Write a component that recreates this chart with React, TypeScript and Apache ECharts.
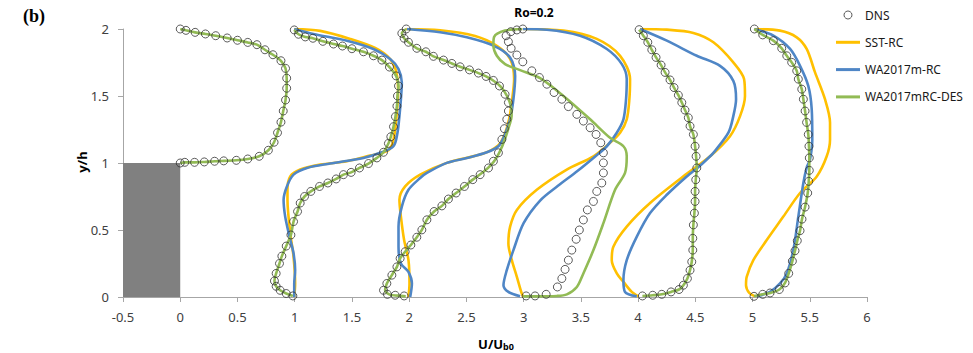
import React, { useEffect, useRef } from "react";
import * as echarts from "echarts";

type P = [number, number];

// ---- Data (U/Ub0 with station offset, y/h) ----
const xTicks = { min: -0.5, max: 6, interval: 0.5 };
const yTicks = { min: 0, max: 2, interval: 0.5 };
const stepBlock: [P, P] = [[-0.5, 0], [0, 1]];

const dnsP0: P[] = [
  [0.0, 2.0], [0.05, 1.99], [0.13, 1.975], [0.22, 1.963], [0.31, 1.95], [0.41, 1.933], [0.5, 1.916],
  [0.59, 1.9], [0.67, 1.883], [0.74, 1.845], [0.81, 1.808], [0.88, 1.763], [0.92, 1.706], [0.93, 1.633],
  [0.93, 1.558], [0.92, 1.47], [0.9, 1.388], [0.88, 1.305], [0.85, 1.226], [0.82, 1.155], [0.77, 1.095],
  [0.69, 1.05], [0.59, 1.03], [0.49, 1.02], [0.38, 1.016], [0.3, 1.013], [0.21, 1.008], [0.125, 1.005],
  [0.04, 1.005], [0.0, 1.0],
];
const dnsP1: P[] = [
  [0.996, 1.993], [1.033, 1.961], [1.092, 1.941], [1.159, 1.931], [1.246, 1.908], [1.339, 1.888],
  [1.417, 1.873], [1.5, 1.853], [1.601, 1.83], [1.688, 1.8], [1.762, 1.768], [1.828, 1.716], [1.886, 1.65],
  [1.907, 1.575], [1.898, 1.5], [1.893, 1.425], [1.88, 1.346], [1.863, 1.271], [1.84, 1.196], [1.819, 1.146],
  [1.776, 1.08], [1.718, 1.038], [1.645, 0.996], [1.566, 0.963], [1.493, 0.93], [1.426, 0.913], [1.362, 0.881],
  [1.29, 0.851], [1.217, 0.825], [1.141, 0.788], [1.086, 0.75], [1.048, 0.701], [1.025, 0.638], [0.99, 0.563],
  [0.967, 0.463], [0.926, 0.38], [0.888, 0.305], [0.867, 0.25], [0.838, 0.176], [0.823, 0.12], [0.838, 0.08],
  [0.873, 0.05], [0.926, 0.026], [0.984, 0.008],
];
const dnsP2: P[] = [
  [1.974, 2.0], [1.936, 1.968], [1.956, 1.931], [1.994, 1.901], [2.067, 1.856], [2.146, 1.83], [2.212, 1.796],
  [2.3, 1.768], [2.373, 1.743], [2.445, 1.718], [2.527, 1.695], [2.605, 1.671], [2.672, 1.646], [2.736, 1.616],
  [2.789, 1.575], [2.838, 1.513], [2.867, 1.451], [2.867, 1.388], [2.853, 1.326], [2.832, 1.256], [2.81, 1.176],
  [2.78, 1.076], [2.736, 1.013], [2.693, 0.963], [2.62, 0.913], [2.556, 0.876], [2.483, 0.825], [2.41, 0.776],
  [2.343, 0.731], [2.286, 0.68], [2.218, 0.638], [2.155, 0.576], [2.111, 0.501], [2.067, 0.446], [2.015, 0.388],
  [1.965, 0.338], [1.921, 0.288], [1.893, 0.225], [1.849, 0.163], [1.805, 0.101], [1.776, 0.05], [1.81, 0.02],
  [1.878, 0.013], [1.956, 0.008],
];
const dnsP3: P[] = [
  [2.993, 2.0], [2.941, 1.993], [2.888, 1.98], [2.847, 1.95], [2.867, 1.905], [2.891, 1.856], [2.941, 1.806],
  [2.993, 1.755], [3.072, 1.688], [3.138, 1.638], [3.203, 1.588], [3.266, 1.526], [3.334, 1.476], [3.391, 1.421],
  [3.465, 1.363], [3.522, 1.313], [3.581, 1.263], [3.633, 1.213], [3.674, 1.151], [3.697, 1.076], [3.697, 1.001],
  [3.697, 0.926], [3.683, 0.851], [3.639, 0.788], [3.61, 0.713], [3.557, 0.65], [3.522, 0.575], [3.487, 0.5],
  [3.459, 0.431], [3.421, 0.35], [3.391, 0.275], [3.362, 0.206], [3.334, 0.138], [3.295, 0.075], [3.197, 0.02],
  [3.1, 0.008], [3.022, 0.008],
];
const dnsP4: P[] = [
  [4.009, 1.995], [4.046, 1.95], [4.085, 1.901], [4.12, 1.845], [4.157, 1.788], [4.201, 1.731], [4.236, 1.676],
  [4.279, 1.62], [4.314, 1.563], [4.352, 1.506], [4.382, 1.451], [4.41, 1.395], [4.439, 1.338], [4.454, 1.275],
  [4.483, 1.213], [4.498, 1.125], [4.507, 1.05], [4.513, 0.963], [4.504, 0.875], [4.498, 0.788], [4.498, 0.713],
  [4.492, 0.626], [4.483, 0.538], [4.478, 0.438], [4.478, 0.35], [4.469, 0.263], [4.454, 0.2], [4.431, 0.138],
  [4.396, 0.088], [4.358, 0.056], [4.288, 0.038], [4.207, 0.02], [4.128, 0.013], [4.038, 0.008],
];
const dnsP5: P[] = [
  [5.016, 2.0], [5.089, 1.956], [5.182, 1.913], [5.255, 1.856], [5.299, 1.8], [5.342, 1.751], [5.386, 1.688],
  [5.4, 1.626], [5.43, 1.551], [5.444, 1.476], [5.459, 1.388], [5.472, 1.303], [5.487, 1.213], [5.493, 1.125],
  [5.496, 1.038], [5.496, 0.945], [5.491, 0.863], [5.482, 0.776], [5.459, 0.671], [5.432, 0.581], [5.415, 0.495],
  [5.391, 0.42], [5.371, 0.345], [5.348, 0.268], [5.316, 0.176], [5.284, 0.105], [5.234, 0.056], [5.153, 0.03],
  [5.089, 0.02], [5.013, 0.005],
];

const sstP1: P[] = [
  [0.996, 2.0], [1.223, 1.986], [1.485, 1.926], [1.703, 1.858], [1.834, 1.776], [1.886, 1.686], [1.904, 1.551],
  [1.895, 1.401], [1.878, 1.251], [1.852, 1.138], [1.805, 1.088], [1.659, 1.055], [1.456, 1.013], [1.223, 0.988],
  [1.048, 0.951], [0.961, 0.9], [0.937, 0.8], [0.937, 0.725], [0.961, 0.478], [0.99, 0.3], [1.004, 0.1], [0.996, 0.0],
];
const sstP2: P[] = [
  [1.974, 2.0], [2.271, 1.991], [2.576, 1.948], [2.769, 1.873], [2.882, 1.776], [2.917, 1.626], [2.9, 1.476],
  [2.873, 1.326], [2.83, 1.206], [2.777, 1.131], [2.649, 1.071], [2.329, 1.001], [2.096, 0.913], [1.965, 0.825],
  [1.915, 0.725], [1.928, 0.6], [1.956, 0.425], [1.994, 0.275], [2.003, 0.1], [1.994, 0.0],
];
const sstP3: P[] = [
  [2.993, 2.0], [3.348, 1.988], [3.639, 1.926], [3.843, 1.8], [3.93, 1.626], [3.924, 1.476], [3.901, 1.326],
  [3.843, 1.226], [3.755, 1.151], [3.61, 1.05], [3.377, 0.951], [3.115, 0.8], [2.941, 0.65], [2.882, 0.525],
  [2.867, 0.4], [2.897, 0.275], [2.941, 0.15], [2.984, 0.025], [3.0, 0.0],
];
const sstP4: P[] = [
  [4.017, 2.0], [4.251, 1.995], [4.483, 1.971], [4.658, 1.901], [4.832, 1.751], [4.926, 1.626], [4.934, 1.5],
  [4.891, 1.35], [4.803, 1.2], [4.629, 1.05], [4.396, 0.9], [4.105, 0.701], [3.901, 0.525], [3.784, 0.375],
  [3.77, 0.275], [3.814, 0.176], [3.872, 0.113], [3.945, 0.038], [4.003, 0.005],
];
const sstP5: P[] = [
  [5.016, 2.0], [5.24, 1.988], [5.386, 1.938], [5.473, 1.851], [5.546, 1.676], [5.633, 1.476], [5.677, 1.301],
  [5.677, 1.176], [5.648, 1.05], [5.561, 0.9], [5.415, 0.776], [5.269, 0.6], [5.124, 0.425], [5.007, 0.275],
  [4.949, 0.15], [4.943, 0.088], [4.972, 0.03], [5.022, 0.005],
];

const waP1: P[] = [
  [0.996, 2.0], [1.164, 1.963], [1.456, 1.913], [1.688, 1.851], [1.834, 1.776], [1.907, 1.701], [1.936, 1.601],
  [1.928, 1.476], [1.915, 1.35], [1.898, 1.226], [1.863, 1.125], [1.747, 1.076], [1.601, 1.038], [1.31, 0.996],
  [1.107, 0.963], [0.99, 0.913], [0.932, 0.825], [0.903, 0.725], [0.917, 0.6], [0.955, 0.45], [0.99, 0.326],
  [1.004, 0.2], [0.996, 0.1], [0.996, 0.0],
];
const waP2: P[] = [
  [1.98, 2.0], [2.271, 1.976], [2.504, 1.938], [2.736, 1.876], [2.882, 1.788], [2.926, 1.65], [2.911, 1.476],
  [2.882, 1.326], [2.83, 1.2], [2.78, 1.125], [2.679, 1.08], [2.504, 1.037], [2.329, 1.001], [2.155, 0.926],
  [2.096, 0.888], [1.994, 0.8], [1.936, 0.675], [1.907, 0.525], [1.907, 0.375], [1.928, 0.25], [1.994, 0.188],
  [2.024, 0.1], [2.009, 0.0],
];
const waP3: P[] = [
  [2.993, 2.0], [3.203, 1.995], [3.493, 1.95], [3.727, 1.851], [3.858, 1.738], [3.901, 1.626], [3.895, 1.476],
  [3.872, 1.326], [3.814, 1.226], [3.727, 1.125], [3.62, 1.045], [3.47, 0.94], [3.3, 0.83],
  [3.144, 0.72], [3.0, 0.551], [2.911, 0.35], [2.853, 0.2], [2.824, 0.088], [2.867, 0.038], [2.969, 0.005],
];
const waP4: P[] = [
  [4.017, 2.0], [4.251, 1.913], [4.513, 1.8], [4.716, 1.725], [4.832, 1.613], [4.856, 1.476], [4.832, 1.35],
  [4.789, 1.226], [4.658, 1.076], [4.6, 1.026], [4.541, 0.98], [4.425, 0.9], [4.251, 0.763], [4.105, 0.626],
  [3.989, 0.45], [3.901, 0.275], [3.872, 0.125], [3.886, 0.038], [3.989, 0.005],
];
const waP5: P[] = [
  [5.016, 2.0], [5.182, 1.95], [5.328, 1.851], [5.415, 1.725], [5.487, 1.575], [5.517, 1.401], [5.522, 1.176],
  [5.502, 1.026], [5.473, 0.966], [5.444, 0.851], [5.4, 0.6], [5.356, 0.35], [5.299, 0.176], [5.24, 0.101],
  [5.153, 0.038], [5.037, 0.005],
];

const desP0: P[] = dnsP0;
const desP1: P[] = dnsP1;
const desP2: P[] = [
  [1.974, 2.0], [1.936, 1.968], [1.956, 1.931], [1.994, 1.901], [2.067, 1.856], [2.146, 1.83], [2.212, 1.796],
  [2.3, 1.768], [2.373, 1.743], [2.445, 1.718], [2.527, 1.695], [2.605, 1.671], [2.672, 1.646], [2.74, 1.612],
  [2.8, 1.57], [2.855, 1.5], [2.89, 1.42], [2.895, 1.35], [2.875, 1.28], [2.845, 1.2], [2.81, 1.12],
  [2.77, 1.05], [2.72, 0.99], [2.65, 0.935], [2.556, 0.876], [2.483, 0.825], [2.41, 0.776],
  [2.343, 0.731], [2.286, 0.68], [2.218, 0.638], [2.155, 0.576], [2.111, 0.501], [2.067, 0.446], [2.015, 0.388],
  [1.965, 0.338], [1.921, 0.288], [1.893, 0.225], [1.849, 0.163], [1.805, 0.101], [1.79, 0.05], [1.83, 0.018],
  [1.9, 0.01], [1.97, 0.005],
];
const desP3: P[] = [
  [2.987, 2.0], [2.838, 1.988], [2.742, 1.941], [2.736, 1.881], [2.766, 1.8], [2.838, 1.738], [2.969, 1.693],
  [3.144, 1.633], [3.348, 1.5], [3.581, 1.326], [3.755, 1.188], [3.872, 1.125], [3.901, 1.05], [3.886, 0.926],
  [3.799, 0.8], [3.697, 0.551], [3.61, 0.35], [3.522, 0.176], [3.465, 0.075], [3.378, 0.02], [3.29, 0.008],
  [3.1, 0.005], [2.996, 0.005],
];
const desP4: P[] = dnsP4;
const desP5: P[] = dnsP5;

const dnsAll: P[] = [...dnsP0, ...dnsP1, ...dnsP2, ...dnsP3, ...dnsP4, ...dnsP5];

const NAMES = { dns: "DNS", sst: "SST-RC", wa: "WA2017m-RC", des: "WA2017mRC-DES" };
const COLORS = { sst: "#FFC000", wa: "#4F86C6", des: "#92BB55" };

export default function App() {
  const ref = useRef<HTMLDivElement>(null);
  useEffect(() => {
    if (!ref.current) return;
    const chart = echarts.init(ref.current, null, { renderer: "svg" });

    const lineSeries = (name: string, color: string, data: P[], z: number, extra: any = {}) => ({
      type: "line",
      name,
      data,
      smooth: 0.3,
      symbol: "none",
      showSymbol: false,
      lineStyle: { color, width: 2.6 },
      itemStyle: { color },
      z,
      silent: true,
      ...extra,
    });

    const series: any[] = [];
    [sstP1, sstP2, sstP3, sstP4, sstP5].forEach((d) => series.push(lineSeries(NAMES.sst, COLORS.sst, d, 2)));
    [waP1, waP2, waP3, waP4, waP5].forEach((d) => series.push(lineSeries(NAMES.wa, COLORS.wa, d, 3)));
    [desP0, desP1, desP2, desP3, desP4, desP5].forEach((d, i) =>
      series.push(
        lineSeries(
          NAMES.des,
          COLORS.des,
          d,
          4,
          i === 0
            ? {
                markArea: {
                  silent: true,
                  itemStyle: { color: "#808080", opacity: 1 },
                  data: [[{ coord: stepBlock[0] }, { coord: stepBlock[1] }]],
                },
              }
            : {}
        )
      )
    );
    series.push({
      type: "scatter",
      name: NAMES.dns,
      data: dnsAll,
      symbol: "circle",
      symbolSize: 8,
      itemStyle: { color: "rgba(255,255,255,0)", borderColor: "#333333", borderWidth: 1 },
      z: 6,
      silent: true,
    });

    const labelFont = { fontFamily: "Noto Sans", fontSize: 13, color: "#404040" };
    const lineIcon = "path://M0 0H24V3H0Z";

    chart.setOption({
      animation: false,
      backgroundColor: "#ffffff",
      grid: { left: 123, right: 106, top: 29, bottom: 56, outerBoundsMode: "none" },
      xAxis: {
        type: "value",
        min: xTicks.min,
        max: xTicks.max,
        interval: xTicks.interval,
        axisLine: { show: true, onZero: false, lineStyle: { color: "#A6A6A6", width: 1 } },
        axisTick: { show: true, length: 5, lineStyle: { color: "#A6A6A6" } },
        axisLabel: { ...labelFont, margin: 13 },
        splitLine: { show: false },
      },
      yAxis: {
        type: "value",
        min: yTicks.min,
        max: yTicks.max,
        interval: yTicks.interval,
        axisLine: { show: true, onZero: false, lineStyle: { color: "#A6A6A6", width: 1 } },
        axisTick: { show: true, length: 5, lineStyle: { color: "#A6A6A6" } },
        axisLabel: { ...labelFont, margin: 14 },
        splitLine: { show: false },
      },
      legend: {
        orient: "vertical",
        left: 836,
        top: 9,
        padding: 0,
        itemWidth: 24,
        itemHeight: 8,
        itemGap: 15.3,
        textStyle: { fontFamily: "Noto Sans", fontSize: 12, color: "#1a1a1a" },
        data: [
          { name: NAMES.dns, icon: "circle", itemStyle: { color: "#ffffff", borderColor: "#333333", borderWidth: 1 } },
          { name: NAMES.sst, icon: lineIcon, itemStyle: { color: COLORS.sst } },
          { name: NAMES.wa, icon: lineIcon, itemStyle: { color: COLORS.wa } },
          { name: NAMES.des, icon: lineIcon, itemStyle: { color: COLORS.des } },
        ],
        selectedMode: false,
      },
      graphic: [
        {
          type: "text",
          left: 23,
          top: 7,
          style: { text: "(b)", font: "bold 18px 'Liberation Serif'", fill: "#000" },
        },
        {
          type: "text",
          x: 534,
          y: 12,
          style: {
            text: "Ro=0.2",
            font: "bold 12px 'Noto Sans'",
            fill: "#000",
            textAlign: "center",
            textVerticalAlign: "middle",
          },
        },
        {
          type: "text",
          x: 82,
          y: 162,
          rotation: Math.PI / 2,
          style: {
            text: "y/h",
            font: "bold 13px 'Noto Sans'",
            fill: "#000",
            textAlign: "center",
            textVerticalAlign: "middle",
          },
        },
        {
          type: "text",
          x: 496,
          y: 344,
          style: {
            text: "{a|U/U}{b|b0}",
            textAlign: "center",
            textVerticalAlign: "middle",
            rich: {
              a: { font: "bold 13px 'Noto Sans'", fill: "#000", verticalAlign: "bottom" },
              b: { font: "bold 9px 'Noto Sans'", fill: "#000", verticalAlign: "bottom" },
            },
          },
        },
      ],
      series,
    });

    return () => chart.dispose();
  }, []);

  return <div ref={ref} style={{ position: "absolute", left: 0, top: 0, width: 973, height: 353 }} />;
}
